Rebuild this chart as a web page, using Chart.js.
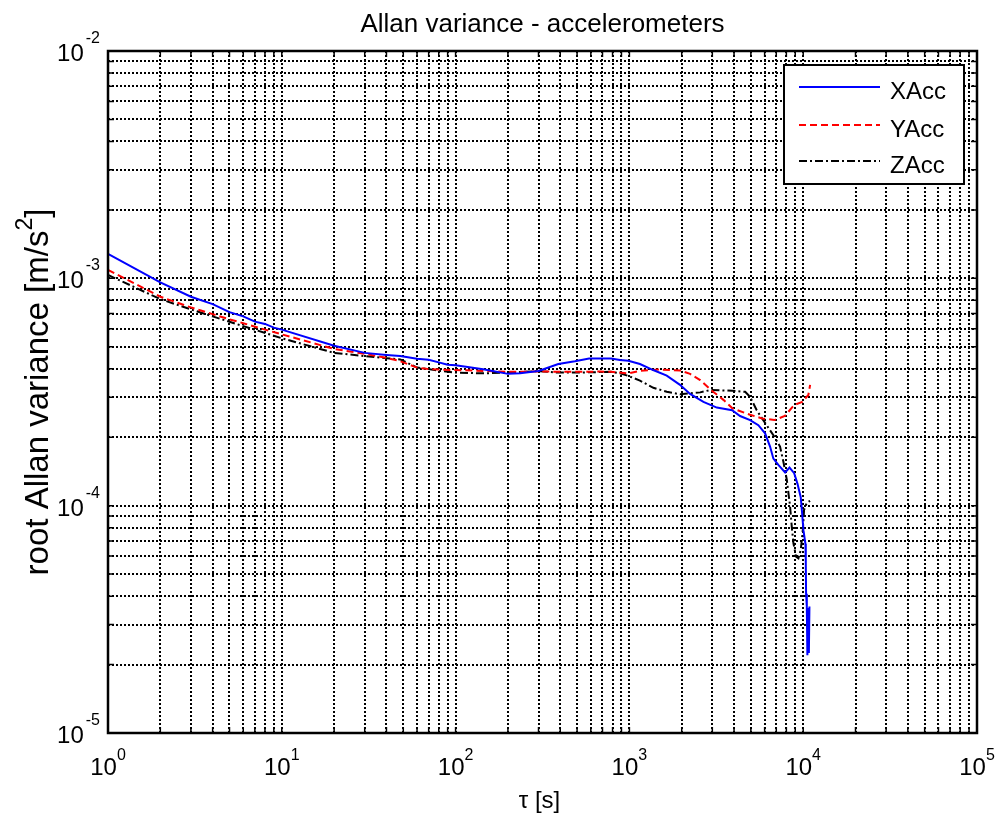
<!DOCTYPE html>
<html>
<head>
<meta charset="utf-8">
<title>Allan variance - accelerometers</title>
<script src="https://cdn.jsdelivr.net/npm/chart.js@4.4.1/dist/chart.umd.min.js"></script>
<style>
    html, body { margin: 0; padding: 0; background: #fff; }
    #wrap { width: 996px; height: 816px; }
</style>
</head>
<body>
<div id="wrap"><canvas id="allanChart" width="996" height="816"></canvas></div>
<script>
// averaging time tau [s] and root Allan variance [m/s^2] per accelerometer axis
const tauX = [1, 2, 3, 4, 5, 6, 7, 8, 9, 10, 20, 30, 40, 48, 60, 70, 80, 90, 100,
    144, 200, 235, 300, 390, 486, 586, 680, 784, 883, 986, 1150, 1370, 1640, 1955,
    2234, 2667, 3184, 3900, 4333, 4950, 5520, 6035, 6446, 6736, 7195, 7870, 8341,
    8872, 9265, 9680, 9860, 10030, 10300, 10350, 10390, 10490, 10570, 10700, 10780, 10860];
const xAcc = [1.28e-3, 9.6e-4, 8.3e-4, 7.7e-4, 7.1e-4, 6.8e-4, 6.45e-4, 6.3e-4, 6.07e-4, 5.95e-4,
    5.05e-4, 4.7e-4, 4.6e-4, 4.55e-4, 4.43e-4, 4.38e-4, 4.27e-4, 4.17e-4, 4.15e-4,
    3.98e-4, 3.8e-4, 3.82e-4, 3.91e-4, 4.2e-4, 4.32e-4, 4.44e-4, 4.44e-4, 4.44e-4, 4.37e-4, 4.34e-4,
    4.2e-4, 3.95e-4, 3.73e-4, 3.4e-4, 3.1e-4, 2.86e-4, 2.7e-4, 2.63e-4, 2.48e-4, 2.38e-4,
    2.26e-4, 2.08e-4, 1.82e-4, 1.61e-4, 1.51e-4, 1.4e-4, 1.47e-4, 1.39e-4, 1.25e-4, 1.09e-4,
    9.25e-5, 7.8e-5, 6.8e-5, 5.6e-5, 4.1e-5, 3.6e-5, 2.2e-5, 3.55e-5, 2.25e-5, 3.6e-5];

const tauY = [1, 2, 3, 4, 5, 6, 8, 10, 20, 30, 40, 48, 60, 68, 80, 100,
    200, 300, 500, 680, 784, 986, 1150, 1500, 1955, 2234, 2553, 2940, 3475, 3912,
    4946, 5797, 6826, 7834, 8872, 9860, 10710, 10960];
const yAcc = [1.09e-3, 8.3e-4, 7.45e-4, 6.96e-4, 6.6e-4, 6.35e-4, 5.95e-4, 5.67e-4,
    4.89e-4, 4.65e-4, 4.47e-4, 4.32e-4, 4.05e-4, 4.0e-4, 3.97e-4, 3.95e-4,
    3.88e-4, 3.89e-4, 3.88e-4, 3.89e-4, 3.88e-4, 3.82e-4, 3.92e-4, 3.97e-4, 3.93e-4, 3.8e-4,
    3.57e-4, 3.23e-4, 2.92e-4, 2.68e-4, 2.51e-4, 2.42e-4, 2.38e-4, 2.48e-4, 2.77e-4, 2.86e-4,
    3.07e-4, 3.4e-4];

const tauZ = [1, 2, 3, 4, 5, 10, 20, 30, 40, 48, 60, 68, 80, 100,
    144, 200, 300, 390, 500, 680, 784, 883, 986, 1150, 1374, 1640, 1955, 2234, 2553, 2940,
    3912, 4634, 4946, 5404, 5797, 6826, 7357, 7692, 8048, 8408, 8595, 8790, 9100, 9385,
    9680, 9950, 10115, 10490, 10960];
const zAcc = [1.035e-3, 8.1e-4, 7.3e-4, 6.8e-4, 6.44e-4, 5.45e-4,
    4.7e-4, 4.55e-4, 4.45e-4, 4.4e-4, 4.05e-4, 4.0e-4, 3.92e-4, 3.85e-4,
    3.82e-4, 3.85e-4, 3.91e-4, 3.85e-4, 3.85e-4, 3.87e-4, 3.88e-4, 3.82e-4, 3.72e-4,
    3.55e-4, 3.3e-4, 3.17e-4, 3.09e-4, 3.12e-4, 3.15e-4, 3.23e-4, 3.2e-4, 3.17e-4, 3.01e-4,
    2.63e-4, 2.42e-4, 2.01e-4, 1.82e-4, 1.56e-4, 1.3e-4, 9.9e-5, 8.07e-5, 6.83e-5, 5.96e-5,
    5.86e-5, 6.38e-5, 7.8e-5, 9.57e-5, 1.03e-4, 1.05e-4];

const seriesNames = ['XAcc', 'YAcc', 'ZAcc'];

// axis decades (tick labels are 10^n) and the minor steps inside each decade
const xDecades = [0, 1, 2, 3, 4, 5];
const yDecades = [-5, -4, -3, -2];
const subSteps = [1, 2, 3, 4, 5, 6, 7, 8, 9];

const chartTitle = 'Allan variance - accelerometers';
const xTitle = '\u03c4 [s]';
const yTitleParts = ['root Allan variance [m/s', '2', ']'];

const FONT = "'Liberation Sans', Arial, Helvetica, sans-serif";
const font = (size) => `${size}px ${FONT}`;

const decadeGrid = (decades) => {
    const vals = [];
    decades.forEach((d, i) => {
        if (i === decades.length - 1) {
            vals.push(Math.pow(10, d));
            return;
        }
        subSteps.forEach((m) => vals.push(m * Math.pow(10, d)));
    });
    return vals;
};

const toPoints = (xs, ys) => xs.map((t, i) => ({ x: t, y: ys[i] }));

// frame, inward ticks, 10^n labels, titles and legend in the old MATLAB look
const matlabFrame = {
    id: 'matlabFrame',
    afterDraw(chart) {
        const { ctx, chartArea: a, scales } = chart;
        const xs = scales.x;
        const ys = scales.y;
        const tickLen = 6;

        ctx.save();
        ctx.strokeStyle = '#000';
        ctx.lineWidth = 1.5;
        ctx.beginPath();
        xs.ticks.forEach((t) => {
            const px = xs.getPixelForValue(t.value);
            ctx.moveTo(px, a.bottom);
            ctx.lineTo(px, a.bottom - tickLen);
            ctx.moveTo(px, a.top);
            ctx.lineTo(px, a.top + tickLen);
        });
        ys.ticks.forEach((t) => {
            const py = ys.getPixelForValue(t.value);
            ctx.moveTo(a.left, py);
            ctx.lineTo(a.left + tickLen, py);
            ctx.moveTo(a.right, py);
            ctx.lineTo(a.right - tickLen, py);
        });
        ctx.stroke();

        ctx.lineWidth = 2.5;
        ctx.strokeRect(a.left, a.top, a.right - a.left, a.bottom - a.top);

        ctx.fillStyle = '#000';
        ctx.textBaseline = 'alphabetic';

        // x tick labels
        xDecades.forEach((d) => {
            const px = xs.getPixelForValue(Math.pow(10, d));
            const exp = String(d);
            ctx.font = font(24);
            const w1 = ctx.measureText('10').width;
            ctx.font = font(16);
            const w2 = ctx.measureText(exp).width;
            const x0 = px - (w1 + w2) / 2;
            ctx.textAlign = 'left';
            ctx.font = font(24);
            ctx.fillText('10', x0, a.bottom + 42);
            ctx.font = font(16);
            ctx.fillText(exp, x0 + w1, a.bottom + 27);
        });

        // y tick labels
        yDecades.forEach((d) => {
            const py = ys.getPixelForValue(Math.pow(10, d));
            const exp = String(d);
            const right = a.left - 8;
            ctx.font = font(16);
            const w2 = ctx.measureText(exp).width;
            ctx.textAlign = 'right';
            ctx.fillText(exp, right, py - 8);
            ctx.font = font(24);
            ctx.fillText('10', right - w2 - 2, py + 10);
        });

        // chart title
        ctx.textAlign = 'center';
        ctx.font = font(26);
        ctx.fillText(chartTitle, (a.left + a.right) / 2, 32);

        // x axis title
        ctx.font = font(24);
        ctx.fillText(xTitle, (a.left + a.right) / 2 - 3, 808);

        // y axis title, rotated, with squared unit
        ctx.save();
        ctx.translate(48, (a.top + a.bottom) / 2);
        ctx.rotate(-Math.PI / 2);
        ctx.font = font(33);
        const wA = ctx.measureText(yTitleParts[0]).width;
        const wC = ctx.measureText(yTitleParts[2]).width;
        ctx.font = font(23);
        const wB = ctx.measureText(yTitleParts[1]).width;
        let cx = -(wA + wB + wC) / 2;
        ctx.textAlign = 'left';
        ctx.font = font(33);
        ctx.fillText(yTitleParts[0], cx, 0);
        cx += wA;
        ctx.font = font(23);
        ctx.fillText(yTitleParts[1], cx, -16);
        cx += wB;
        ctx.font = font(33);
        ctx.fillText(yTitleParts[2], cx, 0);
        ctx.restore();

        // legend box
        const box = { left: 784, top: 65, right: 964, bottom: 184 };
        ctx.fillStyle = '#fff';
        ctx.fillRect(box.left, box.top, box.right - box.left, box.bottom - box.top);
        ctx.lineWidth = 2;
        ctx.strokeStyle = '#000';
        ctx.strokeRect(box.left, box.top, box.right - box.left, box.bottom - box.top);

        const rowY = [87, 125, 161];
        chart.data.datasets.forEach((ds, i) => {
            const y = rowY[i];
            ctx.save();
            ctx.strokeStyle = ds.borderColor;
            ctx.lineWidth = ds.borderWidth;
            ctx.setLineDash(ds.borderDash || []);
            ctx.beginPath();
            ctx.moveTo(799, y);
            ctx.lineTo(880, y);
            ctx.stroke();
            ctx.restore();
            ctx.fillStyle = '#000';
            ctx.textAlign = 'left';
            ctx.font = font(24);
            ctx.fillText(ds.label, 890, y + 12);
        });

        ctx.restore();
    }
};

const gridStyle = {
    color: '#000',
    lineWidth: 2,
    drawTicks: false
};

new Chart(document.getElementById('allanChart'), {
    type: 'line',
    data: {
        datasets: [
            {
                label: seriesNames[0],
                data: toPoints(tauX, xAcc),
                borderColor: '#0000ff',
                borderWidth: 2,
                borderDash: [],
                pointRadius: 0,
                tension: 0,
                fill: false
            },
            {
                label: seriesNames[1],
                data: toPoints(tauY, yAcc),
                borderColor: '#ff0000',
                borderWidth: 2,
                borderDash: [7, 4],
                pointRadius: 0,
                tension: 0,
                fill: false
            },
            {
                label: seriesNames[2],
                data: toPoints(tauZ, zAcc),
                borderColor: '#000000',
                borderWidth: 2,
                borderDash: [8, 3, 2, 3],
                pointRadius: 0,
                tension: 0,
                fill: false
            }
        ]
    },
    options: {
        responsive: false,
        animation: false,
        devicePixelRatio: 1,
        layout: { padding: { left: 108, top: 51, right: 19, bottom: 83 } },
        plugins: {
            legend: { display: false },
            title: { display: false },
            tooltip: { enabled: false }
        },
        scales: {
            x: {
                type: 'logarithmic',
                min: 1,
                max: 1e5,
                afterBuildTicks: (scale) => {
                    scale.ticks = decadeGrid(xDecades).map((v) => ({ value: v }));
                },
                afterFit: (scale) => { scale.height = 0; },
                ticks: { display: false },
                grid: gridStyle,
                border: { display: false, dash: [2, 2] }
            },
            y: {
                type: 'logarithmic',
                min: 1e-5,
                max: 1e-2,
                afterBuildTicks: (scale) => {
                    scale.ticks = decadeGrid(yDecades).map((v) => ({ value: v }));
                },
                afterFit: (scale) => { scale.width = 0; },
                ticks: { display: false },
                grid: gridStyle,
                border: { display: false, dash: [2, 2] }
            }
        }
    },
    plugins: [matlabFrame]
});
</script>
</body>
</html>
